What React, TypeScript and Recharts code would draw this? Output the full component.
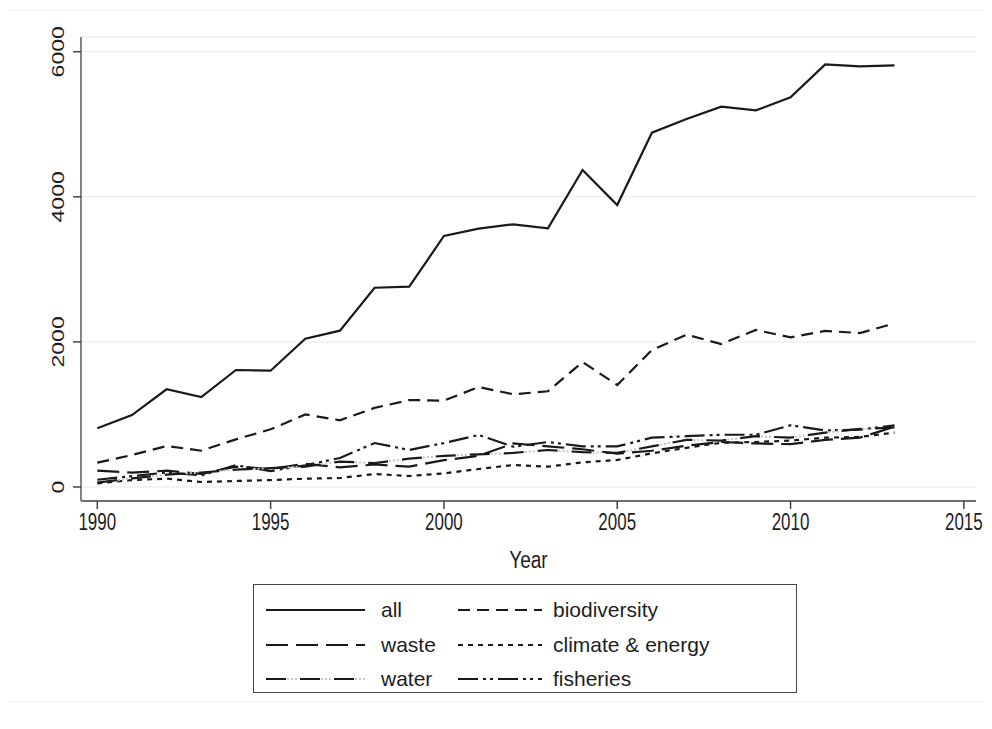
import React from 'react';
import { LineChart, Line, XAxis, YAxis, CartesianGrid } from 'recharts';

const years = [1990, 1991, 1992, 1993, 1994, 1995, 1996, 1997, 1998, 1999, 2000, 2001, 2002, 2003, 2004, 2005, 2006, 2007, 2008, 2009, 2010, 2011, 2012, 2013];
const allSeries = [809, 992, 1347, 1240, 1613, 1603, 2044, 2155, 2747, 2761, 3460, 3561, 3621, 3566, 4369, 3887, 4884, 5072, 5242, 5192, 5371, 5826, 5799, 5813];
const biodiversity = [335, 441, 565, 500, 657, 795, 1000, 920, 1090, 1199, 1190, 1378, 1278, 1320, 1723, 1406, 1888, 2100, 1971, 2164, 2063, 2152, 2122, 2255];
const waste = [225, 197, 225, 180, 280, 250, 320, 270, 310, 280, 370, 430, 600, 560, 520, 460, 500, 570, 620, 600, 590, 650, 680, 830];
const climateEnergy = [50, 96, 115, 69, 83, 96, 115, 124, 179, 152, 188, 248, 303, 280, 340, 372, 464, 540, 610, 620, 640, 680, 690, 750];
const water = [60, 120, 170, 200, 240, 260, 280, 350, 330, 390, 430, 450, 470, 510, 480, 470, 560, 650, 640, 700, 680, 750, 800, 820];
const fisheries = [100, 150, 200, 160, 300, 220, 300, 400, 606, 510, 606, 717, 555, 620, 560, 560, 680, 700, 720, 720, 850, 780, 790, 850];
const xTicks = [1990, 1995, 2000, 2005, 2010, 2015];
const yTicks = [0, 2000, 4000, 6000];

type SeriesDef = { key: string; label: string; dash?: string; dots?: string };

const seriesDefs: SeriesDef[] = [
  { key: 'all', label: 'all' },
  { key: 'biodiversity', label: 'biodiversity', dash: '12 7' },
  { key: 'waste', label: 'waste', dash: '22 8' },
  { key: 'climate', label: 'climate & energy', dash: '5 5' },
  { key: 'water', label: 'water', dash: '20 14', dots: '0 21 2 2 2 2 2 3' },
  { key: 'fisheries', label: 'fisheries', dash: '20 5 3 4 3 5' },
];

const data = years.map((year, i) => ({
  year,
  all: allSeries[i],
  biodiversity: biodiversity[i],
  waste: waste[i],
  climate: climateEnergy[i],
  water: water[i],
  fisheries: fisheries[i],
}));

const FONT = '"Liberation Sans", Arial, sans-serif';
const INK = '#1a1a1a';

const XTick = (props: any) => {
  const { x, y, payload } = props;
  return (
    <text
      transform={`translate(${x},${y + 19}) scale(1.03,1.4)`}
      textAnchor="middle"
      fontSize={16.5}
      fontFamily={FONT}
      fill="#1e1e1e"
    >
      {payload.value}
    </text>
  );
};

const YTick = (props: any) => {
  const { x, y, payload } = props;
  return (
    <text
      transform={`translate(${x},${y}) rotate(-90) scale(1.4,1.03)`}
      textAnchor="middle"
      fontSize={16.5}
      fontFamily={FONT}
      fill="#1e1e1e"
    >
      {payload.value}
    </text>
  );
};

const YearLabel = (props: any) => {
  const vb = props.viewBox || { x: 0, y: 0, width: 0, height: 0 };
  return (
    <text
      transform={`translate(${vb.x + vb.width / 2},${vb.y + 67}) scale(1,1.3)`}
      textAnchor="middle"
      fontSize={19}
      fontFamily={FONT}
      fill="#1e1e1e"
    >
      Year
    </text>
  );
};

const legendRows = [
  [seriesDefs[0], seriesDefs[1]],
  [seriesDefs[2], seriesDefs[3]],
  [seriesDefs[4], seriesDefs[5]],
];

const LegendBox = () => (
  <div
    style={{
      position: 'absolute',
      left: 245,
      top: 576,
      width: 542,
      height: 107,
      border: '1px solid #444',
      background: '#fff',
      fontFamily: FONT,
      fontSize: 21,
      color: '#1e1e1e',
    }}
  >
    {legendRows.map((row, r) => (
      <div key={r} style={{ position: 'absolute', left: 0, top: 8 + r * 34.5, height: 34, width: '100%' }}>
        {row.map((s, c) => {
          const left = c === 0 ? 12 : 204;
          const lineW = c === 0 ? 99 : 84;
          return (
            <div key={s.key} style={{ position: 'absolute', left, top: 0, height: 34, display: 'flex', alignItems: 'center' }}>
              <svg width={lineW} height={10} style={{ display: 'block' }}>
                <line x1={0} y1={5} x2={lineW} y2={5} stroke={INK} strokeWidth={2} strokeDasharray={s.dash} />
                {s.dots && (
                  <line x1={0} y1={5} x2={lineW} y2={5} stroke="#c4c4c4" strokeWidth={2} strokeDasharray={s.dots} />
                )}
              </svg>
              <span style={{ marginLeft: c === 0 ? 16 : 11, lineHeight: '34px' }}>{s.label}</span>
            </div>
          );
        })}
      </div>
    ))}
  </div>
);

export default function App() {
  return (
    <div style={{ position: 'relative', width: 976, height: 713 }}>
      <div
        style={{
          position: 'absolute',
          left: -4,
          top: 2,
          width: 980,
          height: 690,
          border: '1px solid #efefef',
        }}
      />
      <LineChart
        width={976}
        height={700}
        data={data}
        margin={{ top: 29, right: 8, left: 33, bottom: 137 }}
        style={{ position: 'absolute', left: 0, top: 0 }}
      >
        <CartesianGrid horizontal vertical={false} stroke="#efefef" strokeWidth={1.5} />
        <XAxis
          dataKey="year"
          type="number"
          domain={[1989.53, 2015.35]}
          ticks={xTicks}
          allowDataOverflow
          height={70}
          tickSize={8}
          tickMargin={2}
          axisLine={{ stroke: '#444', strokeWidth: 1.5 }}
          tickLine={{ stroke: '#444', strokeWidth: 1.5 }}
          tick={<XTick />}
          label={<YearLabel />}
        />
        <YAxis
          type="number"
          domain={[-193, 6203]}
          ticks={yTicks}
          allowDataOverflow
          width={40}
          tickSize={8}
          tickMargin={9}
          axisLine={{ stroke: '#777', strokeWidth: 1.8 }}
          tickLine={{ stroke: '#444', strokeWidth: 1.5 }}
          tick={<YTick />}
        />
        {seriesDefs.map((s) => (
          <Line
            key={s.key}
            dataKey={s.key}
            type="linear"
            stroke={INK}
            strokeWidth={2.2}
            strokeDasharray={s.dash}
            dot={false}
            activeDot={false}
            isAnimationActive={false}
          />
        ))}
        {seriesDefs
          .filter((s) => s.dots)
          .map((s) => (
            <Line
              key={`${s.key}-dots`}
              dataKey={s.key}
              type="linear"
              stroke="#c4c4c4"
              strokeWidth={2}
              strokeDasharray={s.dots}
              dot={false}
              activeDot={false}
              legendType="none"
              isAnimationActive={false}
            />
          ))}
      </LineChart>
      <LegendBox />
    </div>
  );
}
